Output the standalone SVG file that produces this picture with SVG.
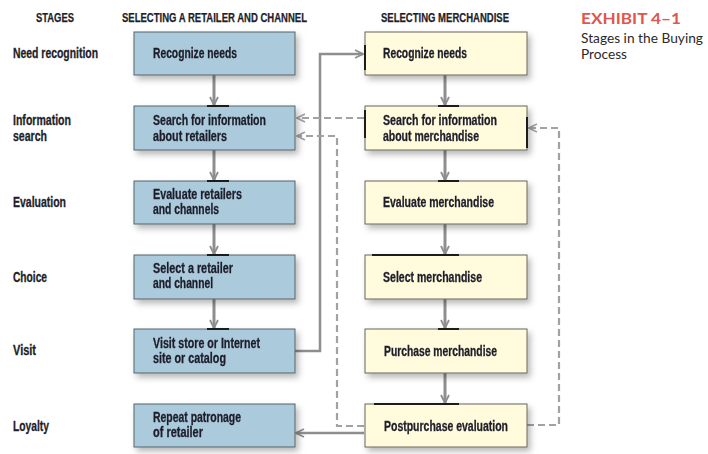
<svg xmlns="http://www.w3.org/2000/svg" width="708" height="454" viewBox="0 0 708 454">
<style>
.hdr{font-family:"Liberation Sans",Arial,sans-serif;font-weight:bold;font-size:12.5px;fill:#1e1e2a;stroke:#1e1e2a;stroke-width:0.25}
.lbl{font-family:"Liberation Sans",Arial,sans-serif;font-weight:bold;font-size:14px;fill:#1e1e2a;stroke:#1e1e2a;stroke-width:0.3}
.blue{fill:#abcbdc;stroke:#55636b;stroke-width:1}
.yel{fill:#fffbdc;stroke:#66665c;stroke-width:1}
.solid{fill:none;stroke:#8e8e8e;stroke-width:3}
.thin{fill:none;stroke:#8e8e8e;stroke-width:2.5}
.dash{fill:none;stroke:#a2a2a2;stroke-width:2.2;stroke-dasharray:7 4}
.tick{stroke:#1a1a1a;stroke-width:2}
</style>
<defs>
<filter id="sh" x="-10%" y="-20%" width="130%" height="150%">
<feDropShadow dx="3" dy="4" stdDeviation="3" flood-color="#000" flood-opacity="0.28"/>
</filter>
<marker id="ah" viewBox="0 0 10 10" refX="9" refY="5" markerWidth="10" markerHeight="10" markerUnits="userSpaceOnUse" orient="auto">
<path d="M1,1 L9,5 L1,9" fill="none" stroke="#8e8e8e" stroke-width="1.8"/>
</marker>
<marker id="ahd" viewBox="0 0 10 10" refX="9" refY="5" markerWidth="10" markerHeight="10" markerUnits="userSpaceOnUse" orient="auto">
<path d="M1,1 L9,5 L1,9" fill="none" stroke="#a2a2a2" stroke-width="1.8"/>
</marker>
</defs>

<g id="headers">
<text class="hdr" x="36" y="22" textLength="38" lengthAdjust="spacingAndGlyphs">STAGES</text>
<text class="hdr" x="122" y="22" textLength="185" lengthAdjust="spacingAndGlyphs">SELECTING A RETAILER AND CHANNEL</text>
<text class="hdr" x="381" y="22" textLength="128" lengthAdjust="spacingAndGlyphs">SELECTING MERCHANDISE</text>
</g>
<g id="title">
<text x="581" y="24" font-family="Lato,'Open Sans',sans-serif" font-size="15" font-weight="bold" fill="#e0574c" textLength="100" lengthAdjust="spacingAndGlyphs">EXHIBIT 4–1</text>
<text x="581" y="43" font-family="Lato,'Open Sans',sans-serif" font-size="13.5" fill="#2a2a2a" textLength="122" lengthAdjust="spacingAndGlyphs">Stages in the Buying</text>
<text x="581" y="59" font-family="Lato,'Open Sans',sans-serif" font-size="13.5" fill="#2a2a2a" textLength="46" lengthAdjust="spacingAndGlyphs">Process</text>
</g>
<g id="stages">
<text class="lbl" x="13" y="58" textLength="85" lengthAdjust="spacingAndGlyphs">Need recognition</text>
<text class="lbl" x="13" y="125" textLength="58" lengthAdjust="spacingAndGlyphs">Information</text>
<text class="lbl" x="13" y="141" textLength="34" lengthAdjust="spacingAndGlyphs">search</text>
<text class="lbl" x="13" y="207" textLength="53" lengthAdjust="spacingAndGlyphs">Evaluation</text>
<text class="lbl" x="13" y="282" textLength="34" lengthAdjust="spacingAndGlyphs">Choice</text>
<text class="lbl" x="13" y="355" textLength="23" lengthAdjust="spacingAndGlyphs">Visit</text>
<text class="lbl" x="13" y="431" textLength="36" lengthAdjust="spacingAndGlyphs">Loyalty</text>
</g>

<g id="connectors">
<line class="solid" x1="214" y1="75" x2="214" y2="105" marker-end="url(#ah)"/>
<line class="solid" x1="214" y1="150" x2="214" y2="180" marker-end="url(#ah)"/>
<line class="solid" x1="214" y1="224" x2="214" y2="254" marker-end="url(#ah)"/>
<line class="solid" x1="214" y1="299" x2="214" y2="328" marker-end="url(#ah)"/>
<line class="solid" x1="445" y1="75" x2="445" y2="105" marker-end="url(#ah)"/>
<line class="solid" x1="445" y1="150" x2="445" y2="180" marker-end="url(#ah)"/>
<line class="solid" x1="445" y1="224" x2="445" y2="254" marker-end="url(#ah)"/>
<line class="solid" x1="445" y1="299" x2="445" y2="328" marker-end="url(#ah)"/>
<line class="solid" x1="445" y1="373" x2="445" y2="403" marker-end="url(#ah)"/>
<path class="thin" d="M295,351 H320 V54 H363" marker-end="url(#ah)"/>
<path class="thin" d="M364,433 H296" marker-end="url(#ah)"/>
<path class="dash" d="M364,118 H297" marker-end="url(#ahd)"/>
<path class="dash" d="M364,426 H337 V136 H297" marker-end="url(#ahd)"/>
<path class="dash" d="M527,425 H559 V128 H529" marker-end="url(#ahd)"/>
</g>

<g id="n-l1" filter="url(#sh)"><rect class="blue" x="134" y="32" width="161" height="43"/><text class="lbl" x="153" y="58" textLength="84" lengthAdjust="spacingAndGlyphs">Recognize needs</text></g>
<g id="n-l2" filter="url(#sh)"><rect class="blue" x="134" y="106" width="161" height="44"/><line class="tick" x1="207" y1="106" x2="229" y2="106"/><text class="lbl" x="153" y="125" textLength="113" lengthAdjust="spacingAndGlyphs">Search for information</text><text class="lbl" x="153" y="141" textLength="74" lengthAdjust="spacingAndGlyphs">about retailers</text></g>
<g id="n-l3" filter="url(#sh)"><rect class="blue" x="134" y="181" width="161" height="43"/><line class="tick" x1="207" y1="181" x2="229" y2="181"/><text class="lbl" x="153" y="199" textLength="89" lengthAdjust="spacingAndGlyphs">Evaluate retailers</text><text class="lbl" x="153" y="214" textLength="66" lengthAdjust="spacingAndGlyphs">and channels</text></g>
<g id="n-l4" filter="url(#sh)"><rect class="blue" x="134" y="255" width="161" height="44"/><line class="tick" x1="207" y1="255" x2="229" y2="255"/><text class="lbl" x="153" y="273" textLength="80" lengthAdjust="spacingAndGlyphs">Select a retailer</text><text class="lbl" x="153" y="288" textLength="60" lengthAdjust="spacingAndGlyphs">and channel</text></g>
<g id="n-l5" filter="url(#sh)"><rect class="blue" x="134" y="329" width="161" height="44"/><line class="tick" x1="207" y1="329" x2="229" y2="329"/><text class="lbl" x="153" y="348" textLength="107" lengthAdjust="spacingAndGlyphs">Visit store or Internet</text><text class="lbl" x="153" y="363" textLength="73" lengthAdjust="spacingAndGlyphs">site or catalog</text></g>
<g id="n-l6" filter="url(#sh)"><rect class="blue" x="134" y="404" width="161" height="43"/><text class="lbl" x="153" y="422" textLength="88" lengthAdjust="spacingAndGlyphs">Repeat patronage</text><text class="lbl" x="153" y="437" textLength="50" lengthAdjust="spacingAndGlyphs">of retailer</text></g>

<g id="n-r1" filter="url(#sh)"><rect class="yel" x="365" y="32" width="162" height="43"/><line class="tick" x1="365" y1="45" x2="365" y2="70"/><text class="lbl" x="383" y="58" textLength="84" lengthAdjust="spacingAndGlyphs">Recognize needs</text></g>
<g id="n-r2" filter="url(#sh)"><rect class="yel" x="365" y="106" width="162" height="44"/><line class="tick" x1="438" y1="106" x2="459" y2="106"/><line class="tick" x1="365" y1="110" x2="365" y2="138"/><line class="tick" x1="527" y1="117" x2="527" y2="148"/><text class="lbl" x="383" y="125" textLength="114" lengthAdjust="spacingAndGlyphs">Search for information</text><text class="lbl" x="383" y="141" textLength="96" lengthAdjust="spacingAndGlyphs">about merchandise</text></g>
<g id="n-r3" filter="url(#sh)"><rect class="yel" x="365" y="181" width="162" height="43"/><line class="tick" x1="438" y1="181" x2="459" y2="181"/><text class="lbl" x="383" y="207" textLength="111" lengthAdjust="spacingAndGlyphs">Evaluate merchandise</text></g>
<g id="n-r4" filter="url(#sh)"><rect class="yel" x="365" y="255" width="162" height="44"/><line class="tick" x1="372" y1="255" x2="459" y2="255"/><text class="lbl" x="383" y="282" textLength="99" lengthAdjust="spacingAndGlyphs">Select merchandise</text></g>
<g id="n-r5" filter="url(#sh)"><rect class="yel" x="365" y="329" width="162" height="44"/><line class="tick" x1="438" y1="329" x2="459" y2="329"/><text class="lbl" x="384" y="356" textLength="113" lengthAdjust="spacingAndGlyphs">Purchase merchandise</text></g>
<g id="n-r6" filter="url(#sh)"><rect class="yel" x="365" y="404" width="162" height="43"/><line class="tick" x1="374" y1="404" x2="459" y2="404"/><text class="lbl" x="384" y="431" textLength="124" lengthAdjust="spacingAndGlyphs">Postpurchase evaluation</text></g>
</svg>
